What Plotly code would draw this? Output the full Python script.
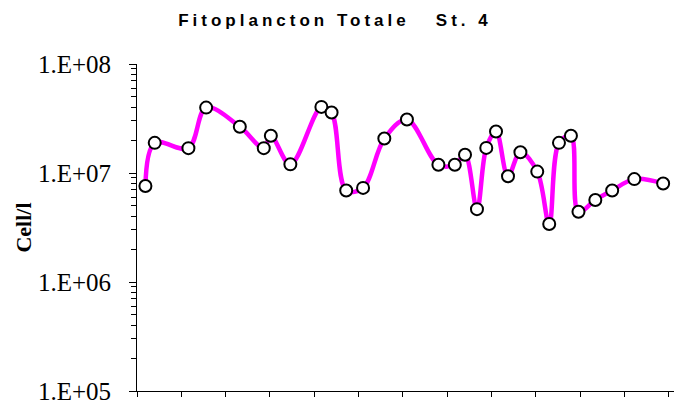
import plotly.graph_objects as go

# sampling positions along the x axis (one axis tick = one month)
x_month = [0.19, 0.40, 1.16, 1.56, 2.32, 2.86, 3.02, 3.46, 4.16, 4.39,
           4.72, 5.10, 5.58, 6.09, 6.80, 7.17, 7.40, 7.67, 7.88, 8.10,
           8.37, 8.65, 9.03, 9.30, 9.52, 9.79, 9.96, 10.34, 10.72, 11.22, 11.87]

# total phytoplankton, cells per litre
cells = [7.6e6, 1.89e7, 1.69e7, 3.98e7, 2.66e7, 1.69e7, 2.2e7, 1.2e7, 4.04e7, 3.59e7,
         6.9e6, 7.3e6, 2.07e7, 3.1e7, 1.19e7, 1.19e7, 1.47e7, 4.66e6, 1.7e7, 2.4e7,
         9.35e6, 1.55e7, 1.03e7, 3.4e6, 1.89e7, 2.2e7, 4.41e6, 5.66e6, 6.92e6, 8.79e6, 8.02e6]

y_ticks = [1e5, 1e6, 1e7, 1e8]
y_labels = ["1.E+05", "1.E+06", "1.E+07", "1.E+08"]
y_minor = [m * 10 ** e for e in range(5, 8) for m in range(2, 10)]

fig = go.Figure()

fig.add_trace(go.Scatter(
    x=x_month,
    y=cells,
    mode='lines+markers',
    line=dict(color='#FF00FF', width=4.5, shape='spline', smoothing=1),
    marker=dict(symbol='circle', size=12, color='white',
                line=dict(color='black', width=2)),
    showlegend=False,
))

fig.update_layout(
    width=674,
    height=405,
    paper_bgcolor='white',
    plot_bgcolor='white',
    margin=dict(l=137, r=0, t=64, b=11),
    title=dict(
        text="<b>Fitoplancton Totale   St. 4</b>",
        font=dict(family='Liberation Sans, Arial', size=17, color='black'),
        x=0.497, xanchor='center', xref='container',
        y=1 - 20 / 405, yanchor='middle', yref='container',
    ),
    xaxis=dict(
        range=[0, 12.115],
        tickmode='linear', tick0=0, dtick=1,
        ticks='outside', ticklen=5, tickwidth=1, tickcolor='black',
        showticklabels=False,
        showline=True, linecolor='black', linewidth=1,
        showgrid=False, zeroline=False,
    ),
    yaxis=dict(
        type='log',
        range=[5, 8],
        tickvals=y_ticks, ticktext=y_labels,
        ticks='outside', ticklen=7, tickwidth=1, tickcolor='black',
        ticklabelstandoff=13,
        ticklabeloverflow='allow',
        tickfont=dict(family='Liberation Serif, Times New Roman', size=25, color='black'),
        minor=dict(tickvals=y_minor, ticks='outside', ticklen=5,
                   tickwidth=1, tickcolor='black', showgrid=False),
        showline=True, linecolor='black', linewidth=1,
        showgrid=False, zeroline=False,
        title=dict(text="<b>Cell/l</b>", standoff=0,
                   font=dict(family='Liberation Serif, Times New Roman', size=22, color='black')),
    ),
)

# no page margin, and widen the title letters a little like the original chart
page_js = """
document.body.style.margin = '0';
document.querySelectorAll('.gtitle').forEach(function (el) {
    el.style.letterSpacing = '4px';
});
"""

fig.write_html("out.html", post_script=page_js, config={'displayModeBar': False})
